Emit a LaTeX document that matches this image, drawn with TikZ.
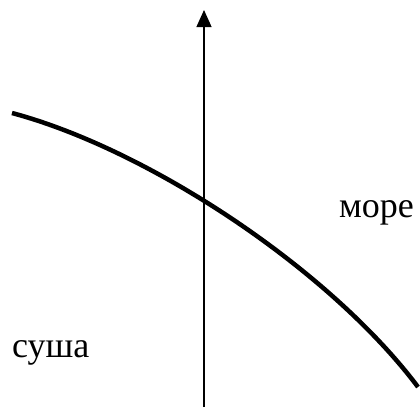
\documentclass[tikz,border=0pt]{standalone}
\usepackage{fontspec}
\setmainfont{Liberation Serif}
\usetikzlibrary{arrows.meta}
\tikzset{
  lbl/.style={anchor=base west,inner sep=0pt,font=\fontsize{36}{42}\selectfont},
  shore/.style={line width=4.5pt},
  axis/.style={line width=1.3pt,-{Triangle[length=17pt,width=15pt]}}
}
\begin{document}
\begin{tikzpicture}[x=1pt,y=-1pt]
\useasboundingbox (0,0) rectangle (420,407);
\coordinate (bot) at (204,407);
\coordinate (top) at (204,10);
\coordinate (s) at (12,113);
\coordinate (e) at (418,387);
\draw[axis] (bot) -- (top);
\draw[shore] (s) .. controls (150,150) and (330,270) .. (e);
\node[lbl] (more) at (339,217) {море};
\node[lbl] (susha) at (12,357) {суша};
\end{tikzpicture}
\end{document}
